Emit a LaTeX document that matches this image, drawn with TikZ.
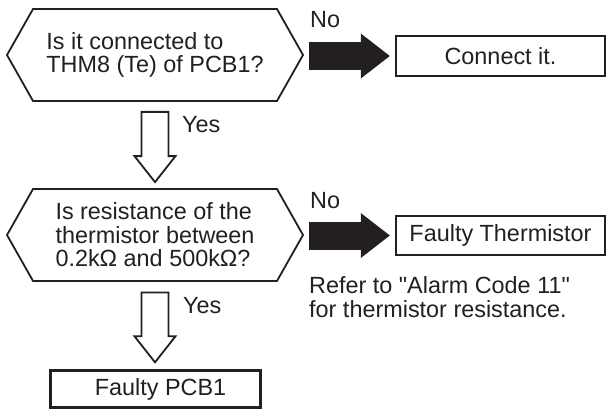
\documentclass[tikz,border=0pt]{standalone}
\usepackage{fontspec}
\setmainfont{Liberation Sans}
\newfontfamily\labelfont{Liberation Sans}
\usepackage{tikz}
\usetikzlibrary{
	arrows.meta, shapes.symbols, positioning, calc
}
\definecolor{inkgray}{RGB}{35, 31, 32}

% hollow down arrow between two points
\newcommand{\hollowdown}[2]{%
	\draw[hollowarrow] let \p1=(#1), \p2=(#2) in
		(\x1-13.5pt,\y1) -- (\x1+13.5pt,\y1) -- (\x1+13.5pt,\y2+26pt)
		-- (\x1+20.5pt,\y2+26pt) -- (\x1,\y2) -- (\x1-20.5pt,\y2+26pt)
		-- (\x1-13.5pt,\y2+26pt) -- cycle;}

\tikzset{
	txt/.style={text=inkgray, font=\labelfont\fontsize{23.4}{23.5}\selectfont, inner sep=0pt},
	question/.style={txt, draw=inkgray, line width=1.8pt, shape=signal,
		signal to=east and west, signal pointer angle=121,
		minimum width=296pt, minimum height=92pt, align=left},
	result/.style={txt, draw=inkgray, line width=2.4pt, rectangle, minimum width=209pt},
	blackarrow/.style={draw=inkgray, line width=28pt,
		-{Triangle[length=29pt, width=45pt, line width=0pt]},
		shorten <=5pt, shorten >=5pt},
	hollowarrow/.style={draw=inkgray, line width=1.8pt, fill=white, line join=miter}
}

\begin{document}
\begin{tikzpicture}[x=1pt, y=-1pt]
	\useasboundingbox (0,0) rectangle (607,409);
	% questions
	\node[question] (q1) at (155,55) {Is it connected to\\THM8 (Te) of PCB1?};
	\node[question] (q2) at (155,235) {Is resistance of the\\thermistor between\\0.2kΩ and 500kΩ?};
	% results
	\node[result, minimum height=40pt] (c1) at (500.5,56) {Connect it.};
	\node[result, minimum height=39pt] (c2) at (500.5,235.5) {Faulty Thermistor};
	\node[result, minimum width=210pt, minimum height=37pt] (c3) at (155.5,389) {\hspace*{10pt}Faulty PCB1};
	% No branches
	\draw[blackarrow] (q1.east |- c1.west) -- (c1.west);
	\draw[blackarrow] (q2.east |- c2.west) -- (c2.west);
	\node[txt, anchor=base west] (no1) at (310,28) {No};
	\node[txt, anchor=base west] (no2) at (310,208) {No};
	% Yes branches
	\hollowdown{$(q1.south)+(0,10)$}{$(q2.north)+(0,-6)$}
	\hollowdown{$(q2.south)+(0,10.5)$}{$(c3.north)+(0,-7)$}
	\node[txt, anchor=base west] (yes1) at (182,132.3) {Yes};
	\node[txt, anchor=base west] (yes2) at (183,313.3) {Yes};
	% note
	\node[txt, anchor=base west, align=left] (note) at (309,317.3) {Refer to "Alarm Code 11"\\for thermistor resistance.};
\end{tikzpicture}
\end{document}
